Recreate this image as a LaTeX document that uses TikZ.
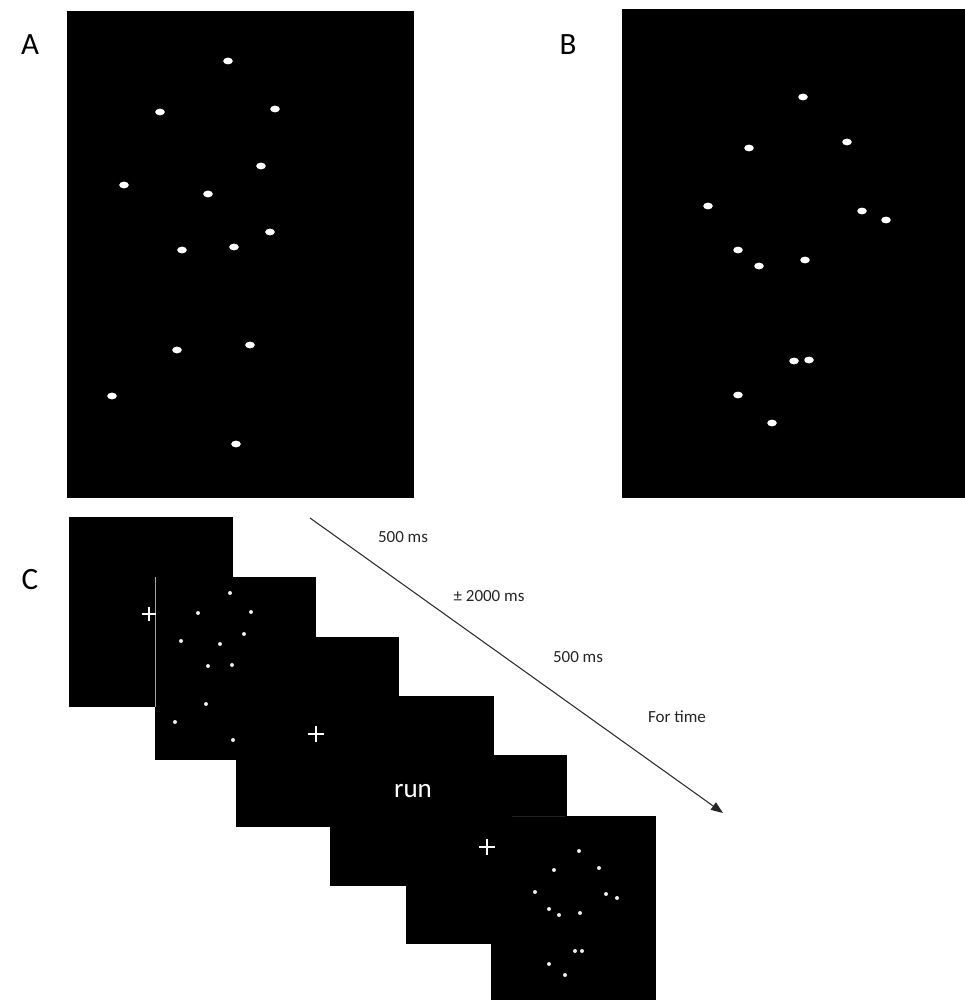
\documentclass[tikz,border=0pt]{standalone}
\usepackage{fontspec}
\setmainfont{Carlito}
\usetikzlibrary{arrows.meta}
\begin{document}
\begin{tikzpicture}[x=1pt,y=-1pt,
  screen/.style={fill=black},
  bigdot/.style={fill=white},
  smalldot/.style={fill=white!85!gray},
  crossline/.style={draw=white,line width=2.6pt},
  seam/.style={draw=gray!70,line width=0.8pt},
  panellabel/.style={font=\fontsize{31}{34}\selectfont,text=black},
  timelabel/.style={font=\fontsize{17}{20}\selectfont,text=black!85},
  timearrow/.style={draw=black!85,line width=1pt,-{Triangle[length=12pt,width=9pt]}}]
\useasboundingbox (0,0) rectangle (965,1000);
\fill[white] (0,0) rectangle (965,1000);

% ---------- Panel A ----------
\node[panellabel] (labA) at (30,45) {A};
\path[screen] (67,11) rectangle (414,498);
\foreach \x/\y in {228/61,160/112,275/109,261/166,124/185,208/194,270/232,182/250,234/247,177/350,250/345,112/396,236/444}
  \fill[bigdot] (\x,\y) ellipse [x radius=4.8pt, y radius=3.4pt];

% ---------- Panel B ----------
\node[panellabel] (labB) at (568,45) {B};
\path[screen] (622,9) rectangle (966,498);
\foreach \x/\y in {803/97,749/148,847/142,708/206,862/211,886/220,738/250,759/266,805/260,794/361,809/360,738/395,772/423}
  \fill[bigdot] (\x,\y) ellipse [x radius=4.8pt, y radius=3.4pt];

% ---------- Panel C ----------
\node[panellabel] (labC) at (30,580) {C};

% screens, back to front
\path[screen] (69,517) rectangle (233,707);
\path[screen] (155,577) rectangle (316,760);
\draw[seam] (155,577) -- (155,707);
\path[screen] (236,637) rectangle (399,827);
\path[screen] (330,696) rectangle (494,886);
\path[screen] (406,755) rectangle (567,944);
\path[screen] (491,816) rectangle (656,1001);
\draw[seam,draw=gray!25!black] (512,816) -- (565,816);

% contents, drawn over the screens
\draw[crossline] (142,614) -- (156,614) (149,607) -- (149,621);
\foreach \x/\y in {230/593,198/613,251/612,244/634,181/641,220/644,208/666,232/665,206/704,175/722,233/740}
  \fill[smalldot] (\x,\y) circle [radius=2pt];
\draw[crossline] (308,734) -- (324,734) (316,726) -- (316,742);
\node[text=white,font=\fontsize{27}{30}\selectfont] (run) at (413,791) {run};
\draw[crossline] (479,847) -- (495,847) (487,839) -- (487,855);
\foreach \x/\y in {579/851,554/870,599/868,535/892,606/894,617/898,549/909,559/915,580/913,575/951,582/951,549/964,565/975}
  \fill[smalldot] (\x,\y) circle [radius=2pt];

% time arrow and labels
\coordinate (tstart) at (310,518);
\coordinate (tend) at (723,813);
\draw[timearrow] (tstart) -- (tend);
\node[timelabel] (t1) at (403,537) {500 ms};
\node[timelabel] (t2) at (489,596) {± 2000 ms};
\node[timelabel] (t3) at (578,657) {500 ms};
\node[timelabel] (t4) at (677,717) {For time};
\end{tikzpicture}
\end{document}
